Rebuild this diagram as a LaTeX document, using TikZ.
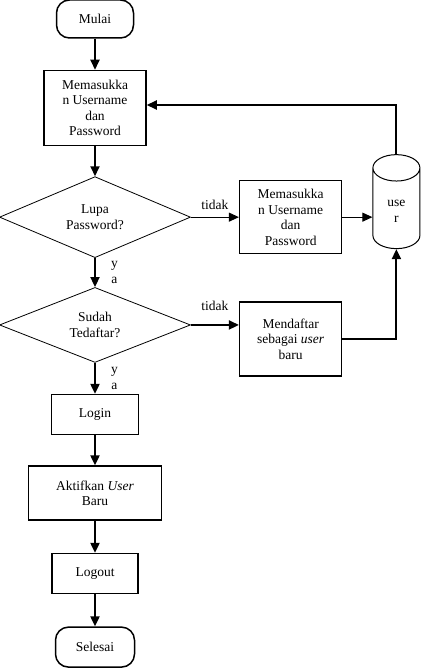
\documentclass[tikz,border=0pt]{standalone}
\usepackage{fontspec}
\setmainfont{Liberation Serif}
\usetikzlibrary{
  arrows.meta,
  shapes.geometric,
  positioning,
  calc
}
\definecolor{fcLine}{HTML}{000000}
\tikzset{
  fcnode/.style={
    draw=fcLine, font=\fontsize{13.5}{15.5}\selectfont, align=center, inner sep=2pt
  },
  fcterm/.style={fcnode, rectangle, rounded corners=13pt, line width=1.5pt},
  fcbox/.style={fcnode, rectangle, line width=1.5pt},
  fcdecide/.style={fcnode, diamond, aspect=2.4, inner sep=0pt, line width=0.8pt,
    minimum width=191pt, minimum height=81pt},
  fcstore/.style={fcnode, cylinder, shape border rotate=90, aspect=1.2, line width=1pt,
    minimum width=47pt, minimum height=94pt},
  flow/.style={-{Triangle[length=10pt, width=9pt]}, line width=2pt, fcLine},
  thinflow/.style={-{Triangle[length=10pt, width=9pt]}, line width=1pt, fcLine},
  tag/.style={font=\fontsize{13.5}{15.5}\selectfont, align=center, inner sep=1pt}
}

\begin{document}
\begin{tikzpicture}[x=1pt, y=-1pt]
  \useasboundingbox (0,0) rectangle (426,669);
  % main column
  \node[fcterm, minimum width=77pt, minimum height=38pt] (mulai) at (95,19) {Mulai};
  \node[fcbox, minimum width=102pt, minimum height=75pt, below=31pt of mulai] (input)
    {Memasukka\\n Username\\dan\\Password};
  \node[fcdecide, below=30pt of input] (lupa) {Lupa\\Password?};
  \node[fcdecide, minimum height=75pt, below=29pt of lupa] (sudah) {Sudah\\Tedaftar?};
  \node[fcbox, minimum width=87pt, minimum height=40pt, below=31pt of sudah] (login) {Login};
  \node[fcbox, minimum width=133pt, minimum height=54pt, below=30pt of login] (aktif)
    {Aktifkan \textit{User}\\Baru};
  \node[fcbox, minimum width=86pt, minimum height=40pt, below=32pt of aktif] (logout) {Logout};
  \node[fcterm, minimum width=79pt, minimum height=40pt, below=32pt of logout] (selesai) {Selesai};
  % right side
  \node[fcbox, minimum width=102pt, minimum height=73pt, right=48pt of lupa] (reset)
    {Memasukka\\n Username\\dan\\Password};
  \node[fcstore, right=30pt of reset, yshift=6pt] (user) {use\\r};
  \node[fcbox, minimum width=102pt, minimum height=74pt, right=48pt of sudah, yshift=-14pt] (daftar)
    {Mendaftar\\sebagai \textit{user}\\baru};

  \draw[flow] (mulai) -- (input);
  \draw[flow] (input) -- (lupa);
  \draw[flow] (lupa) -- node[tag, right=14pt] {y\\a} (sudah);
  \draw[flow] (sudah) -- node[tag, right=14pt] {y\\a} (login);
  \draw[flow] (login) -- (aktif);
  \draw[flow] (aktif) -- (logout);
  \draw[flow] (logout) -- (selesai);
  \draw[thinflow] (lupa.east) -- node[tag, above=6pt] {tidak} (reset.west);
  \draw[thinflow] (reset.east) -- (reset.east -| user.west);
  \draw[flow] (sudah.east) -- node[tag, above=12pt] {tidak} (sudah.east -| daftar.west);
  \draw[flow] (daftar.east) -| (user.south);
  \draw[flow] (user.north) |- ([yshift=3pt]input.east);
\end{tikzpicture}
\end{document}
